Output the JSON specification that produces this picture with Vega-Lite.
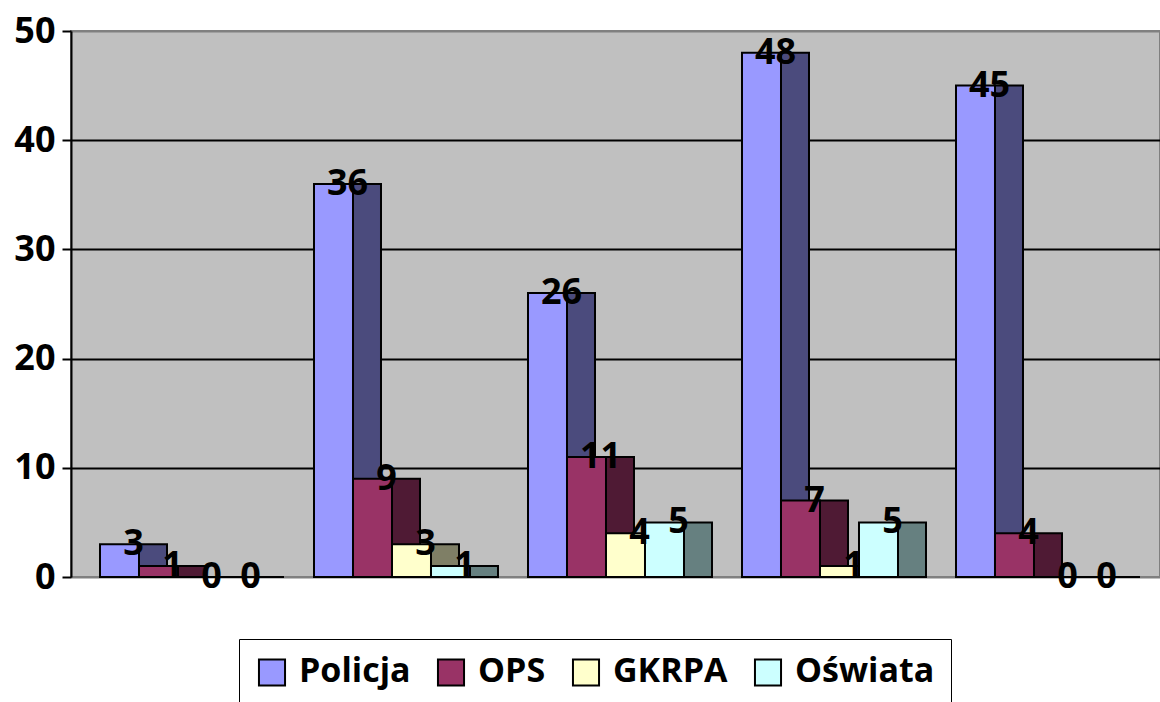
{
  "$schema": "https://vega.github.io/schema/vega-lite/v6.json",
  "width": 1089,
  "height": 546,
  "autosize": {"type": "none"},
  "padding": {"left": 71, "top": 31, "right": 0, "bottom": 125},
  "background": "white",
  "config": {
    "view": {"fill": "#C0C0C0", "stroke": "#808080", "strokeWidth": 2},
    "font": "Open Sans"
  },
  "data": {
    "values": [
      {"grupa": "1", "seria": "Policja", "wartosc": 3},
      {"grupa": "1", "seria": "OPS", "wartosc": 1},
      {"grupa": "1", "seria": "GKRPA", "wartosc": 0},
      {"grupa": "1", "seria": "Oświata", "wartosc": 0},
      {"grupa": "2", "seria": "Policja", "wartosc": 36},
      {"grupa": "2", "seria": "OPS", "wartosc": 9},
      {"grupa": "2", "seria": "GKRPA", "wartosc": 3},
      {"grupa": "2", "seria": "Oświata", "wartosc": 1},
      {"grupa": "3", "seria": "Policja", "wartosc": 26},
      {"grupa": "3", "seria": "OPS", "wartosc": 11},
      {"grupa": "3", "seria": "GKRPA", "wartosc": 4},
      {"grupa": "3", "seria": "Oświata", "wartosc": 5},
      {"grupa": "4", "seria": "Policja", "wartosc": 48},
      {"grupa": "4", "seria": "OPS", "wartosc": 7},
      {"grupa": "4", "seria": "GKRPA", "wartosc": 1},
      {"grupa": "4", "seria": "Oświata", "wartosc": 5},
      {"grupa": "5", "seria": "Policja", "wartosc": 45},
      {"grupa": "5", "seria": "OPS", "wartosc": 4},
      {"grupa": "5", "seria": "GKRPA", "wartosc": 0},
      {"grupa": "5", "seria": "Oświata", "wartosc": 0}
    ]
  },
  "encoding": {
    "x": {
      "field": "grupa",
      "type": "nominal",
      "scale": {"paddingInner": 0.0888, "paddingOuter": 0.0888, "align": 0.763},
      "axis": null
    },
    "y": {
      "field": "wartosc",
      "type": "quantitative",
      "stack": null,
      "scale": {"domain": [0, 50], "nice": false},
      "axis": {
        "values": [0, 10, 20, 30, 40, 50],
        "title": null,
        "domainColor": "black",
        "domainWidth": 2,
        "tickColor": "black",
        "tickWidth": 2,
        "tickSize": 9,
        "labelPadding": 7,
        "labelFont": "Open Sans",
        "labelFontWeight": "bold",
        "labelFontSize": 36,
        "labelColor": "black",
        "grid": true,
        "gridColor": {"condition": {"test": "datum.value === 50 || datum.value === 0", "value": "#808080"}, "value": "black"},
        "gridWidth": 2,
        "gridOpacity": 1
      }
    }
  },
  "layer": [
    {
      "mark": {"type": "bar", "stroke": "black", "strokeWidth": 2, "opacity": 1},
      "encoding": {
        "xOffset": {
          "field": "seria",
          "type": "nominal",
          "scale": {"domain": ["Policja", "OPS", "GKRPA", "Oświata"], "paddingInner": 0.282, "paddingOuter": 0.641, "align": 0.78}
        },
        "color": {
          "field": "seria",
          "type": "nominal",
          "scale": {"domain": ["Policja", "OPS", "GKRPA", "Oświata"], "range": ["#4B4B7D", "#4F1A34", "#7F7F66", "#668080"]},
          "legend": null
        }
      }
    },
    {
      "mark": {"type": "bar", "stroke": "black", "strokeWidth": 2, "opacity": 1},
      "encoding": {
        "xOffset": {
          "field": "seria",
          "type": "nominal",
          "scale": {"domain": ["Policja", "OPS", "GKRPA", "Oświata"], "paddingInner": 0, "paddingOuter": 0.5, "align": 0}
        },
        "color": {
          "field": "seria",
          "type": "nominal",
          "scale": {"domain": ["Policja", "OPS", "GKRPA", "Oświata"], "range": ["#9999FF", "#993366", "#FFFFCC", "#CCFFFF"]},
          "legend": {
            "title": null,
            "orient": "none",
            "legendX": 168,
            "legendY": 608,
            "direction": "horizontal",
            "columns": 4,
            "strokeColor": "black",
            "fillColor": "white",
            "padding": 16,
            "symbolType": "square",
            "symbolSize": 680,
            "symbolStrokeColor": "black",
            "symbolStrokeWidth": 2,
            "symbolOpacity": 1,
            "labelFont": "Open Sans",
            "labelFontWeight": "bold",
            "labelFontSize": 34,
            "labelColor": "black",
            "labelOffset": 10,
            "columnPadding": 22,
            "labelLimit": 400
          }
        }
      }
    },
    {
      "mark": {"type": "text", "font": "Open Sans", "fontWeight": "bold", "fontSize": 36, "baseline": "middle", "align": "center", "color": "black"},
      "encoding": {
        "xOffset": {
          "field": "seria",
          "type": "nominal",
          "scale": {"type": "point", "domain": ["Policja", "OPS", "GKRPA", "Oświata"], "padding": 1, "align": 0.43}
        },
        "text": {"field": "wartosc", "type": "quantitative"}
      }
    }
  ],
  "resolve": {"scale": {"xOffset": "independent", "color": "independent"}}
}
